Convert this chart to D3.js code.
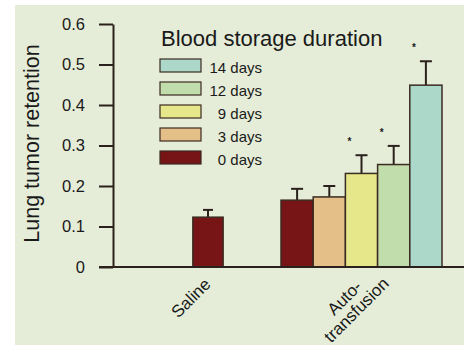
<!DOCTYPE html>
<html>
<head>
<meta charset="utf-8">
<script src="https://cdn.jsdelivr.net/npm/d3@7"></script>
<style>
  body { margin: 0; background: #fff; }
  text { font-family: "Liberation Sans", Arial, Helvetica, sans-serif; fill: #1a1a1a; }
</style>
</head>
<body>
<div id="container"></div>
<script>
// chart values
const groups = ["Saline", "Auto-transfusion"];
const groupLines = [["Saline"], ["Auto-", "transfusion"]];
const series = ["0 days", "3 days", "9 days", "12 days", "14 days"];
const colors = ["#761416", "#e5bf88", "#e5e78a", "#c2ddac", "#acd8c9"];
const salineValues = [0.123];
const salineErrors = [0.141];
const autoValues = [0.165, 0.173, 0.231, 0.253, 0.449];
const autoErrors = [0.193, 0.200, 0.276, 0.299, 0.508];
const autoSignificant = [false, false, true, true, true];
const yTicks = [0, 0.1, 0.2, 0.3, 0.4, 0.5, 0.6];
const legendOrder = ["14 days", "12 days", "9 days", "3 days", "0 days"];

const width = 466, height = 346;
const margin = { top: 24, right: 2, bottom: 79, left: 113 };
const ink = "#2a211c";

let svg = d3.select("#container").append("svg")
    .attr("width", width)
    .attr("height", height);

// panel background
svg.append("rect")
    .attr("x", 15).attr("y", 5)
    .attr("width", 449).attr("height", 340)
    .attr("fill", "#e5edd8");

let y = d3.scaleLinear()
    .domain([0, 0.6])
    .range([height - margin.bottom, margin.top]);

// group centres, then bars inside a group
let xGroup = d3.scalePoint()
    .domain(groups)
    .range([208, 361.5]);
let xInner = d3.scaleBand()
    .domain(series)
    .range([-80.5, 80.5]);
let colorScale = d3.scaleOrdinal().domain(series).range(colors);

// rows for the bars
let bars = [];
salineValues.forEach((v, i) => {
    bars.push({ group: "Saline", key: series[i], value: v, err: salineErrors[i], sig: false, x: xGroup("Saline") - xInner.bandwidth() * 0.47, w: xInner.bandwidth() * 0.94 });
});
autoValues.forEach((v, i) => {
    bars.push({ group: "Auto-transfusion", key: series[i], value: v, err: autoErrors[i], sig: autoSignificant[i], x: xGroup("Auto-transfusion") + xInner(series[i]), w: xInner.bandwidth() });
});

// error bars (drawn first so the bar outline sits on top)
let eb = svg.append("g").attr("class", "error-bars");
bars.forEach(d => {
    let cx = d.x + d.w / 2;
    let capW = d.group === "Saline" ? 5 : 6;
    eb.append("line")
        .attr("x1", cx).attr("x2", cx)
        .attr("y1", y(d.value)).attr("y2", y(d.err))
        .attr("stroke", ink).attr("stroke-width", 2);
    eb.append("line")
        .attr("x1", cx - capW).attr("x2", cx + capW)
        .attr("y1", y(d.err)).attr("y2", y(d.err))
        .attr("stroke", ink).attr("stroke-width", 2);
});

svg.append("g").attr("class", "bars")
    .selectAll("rect")
    .data(bars)
    .enter()
    .append("rect")
    .attr("x", d => d.x)
    .attr("y", d => y(d.value))
    .attr("width", d => d.w)
    .attr("height", d => y(0) - y(d.value))
    .attr("fill", d => colorScale(d.key))
    .attr("stroke", "#3b2b22")
    .attr("stroke-width", 1.5);

// significance marks
svg.append("g").attr("class", "stars")
    .selectAll("text")
    .data(bars.filter(d => d.sig))
    .enter()
    .append("text")
    .attr("x", d => d.x + d.w / 2 - 12)
    .attr("y", d => y(d.err) - 16 + 6)
    .attr("text-anchor", "middle")
    .style("font-size", "10px")
    .style("font-weight", "bold")
    .text("*");

// y axis
let yAxis = svg.append("g")
    .attr("transform", `translate(${margin.left},0)`)
    .call(d3.axisLeft(y).tickValues(yTicks).tickSize(14).tickSizeOuter(0).tickPadding(14)
        .tickFormat(d => d === 0 ? "0" : d3.format(".1f")(d)));
yAxis.selectAll("path, line").attr("stroke", ink).attr("stroke-width", 2);
yAxis.selectAll("text").style("font-size", "16.5px").attr("fill", "#1a1a1a")
    .style("font-family", "'Liberation Sans', Arial, sans-serif");

// x baseline
svg.append("line")
    .attr("x1", margin.left - 14).attr("x2", width - margin.right)
    .attr("y1", y(0)).attr("y2", y(0))
    .attr("stroke", ink).attr("stroke-width", 2);

// category labels
groups.forEach((g, i) => {
    let t = svg.append("text")
        .attr("transform", `translate(${xGroup(g) - 13},302) rotate(-45)`)
        .attr("text-anchor", "middle")
        .style("font-size", "17px");
    groupLines[i].forEach((ln, j) => {
        t.append("tspan").attr("x", 0).attr("y", j * 17).text(ln);
    });
});

// y title
svg.append("text")
    .attr("transform", `translate(39,${(y(0) + y(0.6)) / 2 - 2}) rotate(-90)`)
    .attr("text-anchor", "middle")
    .style("font-size", "21.5px")
    .text("Lung tumor retention");

// legend
let legend = svg.append("g").attr("class", "legend");
legend.append("text")
    .attr("x", 161).attr("y", 46)
    .style("font-size", "22px")
    .text("Blood storage duration");
legendOrder.forEach((key, i) => {
    let ly = 59 + i * 23;
    legend.append("rect")
        .attr("x", 160).attr("y", ly)
        .attr("width", 41).attr("height", 13)
        .attr("fill", colorScale(key))
        .attr("stroke", "#3b2b22").attr("stroke-width", 1.2);
    legend.append("text")
        .attr("x", 262).attr("y", ly + 13.5)
        .attr("text-anchor", "end")
        .style("font-size", "15px")
        .text(key);
});
</script>
</body>
</html>
